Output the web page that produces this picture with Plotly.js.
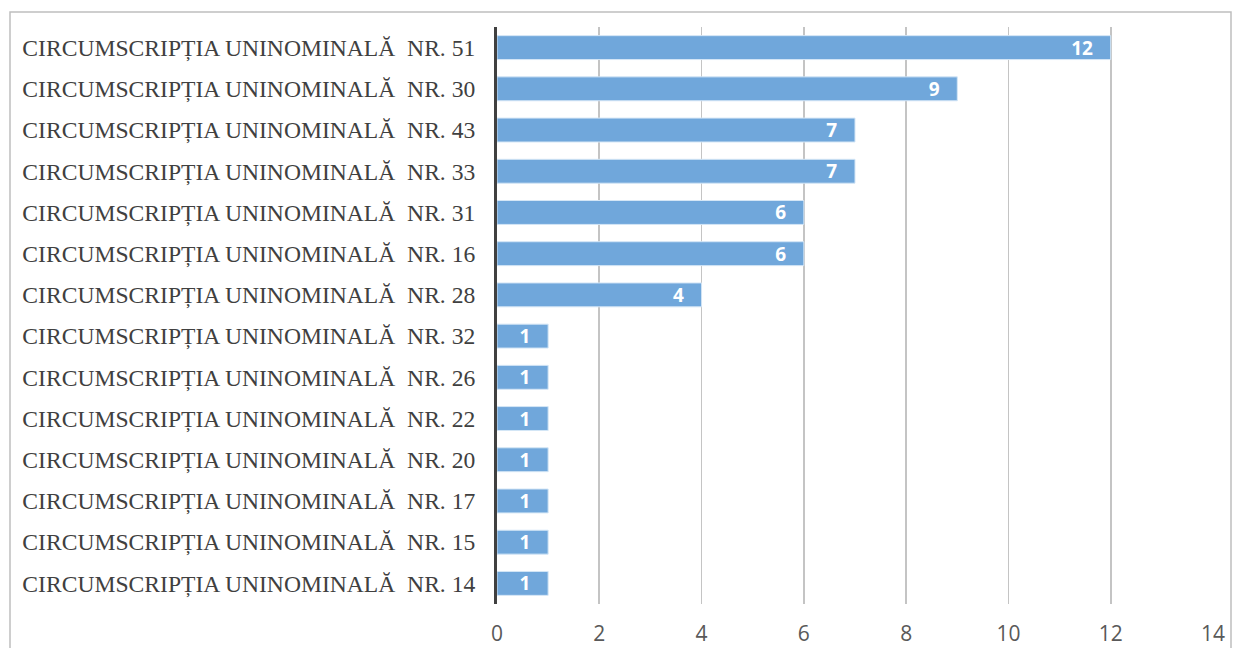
<!DOCTYPE html>
<html>
<head>
<meta charset="utf-8">
<script src="https://cdn.plot.ly/plotly-3.0.1.min.js"></script>
<style>html,body{margin:0;padding:0;background:#fff;}#chart{width:1233px;height:648px;}</style>
</head>
<body>
<div id="chart"></div>
<script>
const categories = [
  "CIRCUMSCRIPȚIA UNINOMINALĂ\u00a0 NR. 51",
  "CIRCUMSCRIPȚIA UNINOMINALĂ\u00a0 NR. 30",
  "CIRCUMSCRIPȚIA UNINOMINALĂ\u00a0 NR. 43",
  "CIRCUMSCRIPȚIA UNINOMINALĂ\u00a0 NR. 33",
  "CIRCUMSCRIPȚIA UNINOMINALĂ\u00a0 NR. 31",
  "CIRCUMSCRIPȚIA UNINOMINALĂ\u00a0 NR. 16",
  "CIRCUMSCRIPȚIA UNINOMINALĂ\u00a0 NR. 28",
  "CIRCUMSCRIPȚIA UNINOMINALĂ\u00a0 NR. 32",
  "CIRCUMSCRIPȚIA UNINOMINALĂ\u00a0 NR. 26",
  "CIRCUMSCRIPȚIA UNINOMINALĂ\u00a0 NR. 22",
  "CIRCUMSCRIPȚIA UNINOMINALĂ\u00a0 NR. 20",
  "CIRCUMSCRIPȚIA UNINOMINALĂ\u00a0 NR. 17",
  "CIRCUMSCRIPȚIA UNINOMINALĂ\u00a0 NR. 15",
  "CIRCUMSCRIPȚIA UNINOMINALĂ\u00a0 NR. 14"
];
const values = [12, 9, 7, 7, 6, 6, 4, 1, 1, 1, 1, 1, 1, 1];
const tickValues = [0, 2, 4, 6, 8, 10, 12, 14];

const trace = {
  type: 'bar',
  orientation: 'h',
  y: categories,
  x: values,
  marker: {color: '#70a7db', line: {color: '#d4e6f6', width: 1}},
  text: values.map(v => String(v) + '\u00a0\u00a0\u00a0'),
  textposition: 'inside',
  insidetextanchor: 'end',
  textangle: 0,
  textfont: {family: 'Open Sans, sans-serif', size: 19, color: '#ffffff', weight: 'bold'},
  constraintext: 'none',
  hoverinfo: 'x+y',
  cliponaxis: false
};

const layout = {
  width: 1233,
  height: 648,
  margin: {l: 497, r: 20, t: 27, b: 44},
  paper_bgcolor: '#ffffff',
  plot_bgcolor: '#ffffff',
  showlegend: false,
  bargap: 0.42,
  xaxis: {
    range: [0, 14],
    tickvals: tickValues,
    ticktext: tickValues.map(String),
    showgrid: true,
    gridcolor: '#c4c4c4',
    gridwidth: 1.6,
    zeroline: false,
    showline: false,
    ticks: 'outside',
    ticklen: 11,
    tickcolor: 'rgba(0,0,0,0)',
    tickfont: {family: 'Open Sans, sans-serif', size: 21, color: '#595959'},
    fixedrange: true
  },
  yaxis: {
    autorange: 'reversed',
    showgrid: false,
    zeroline: false,
    showline: true,
    linecolor: '#404040',
    linewidth: 3,
    ticks: 'outside',
    ticklen: 14,
    tickcolor: 'rgba(0,0,0,0)',
    tickfont: {family: 'Liberation Serif, Times New Roman, serif', size: 23.6, color: '#404040'},
    fixedrange: true
  },
  shapes: [{
    type: 'rect',
    xref: 'paper', yref: 'paper',
    x0: (10 - 497) / 716, x1: (1231 - 497) / 716,
    y0: (604 - 660) / 577, y1: (604 - 12) / 577,
    line: {color: '#bfbfbf', width: 1.5},
    fillcolor: 'rgba(0,0,0,0)',
    layer: 'below'
  }]
};

Plotly.newPlot('chart', [trace], layout, {displayModeBar: false, staticPlot: true});
</script>
</body>
</html>
